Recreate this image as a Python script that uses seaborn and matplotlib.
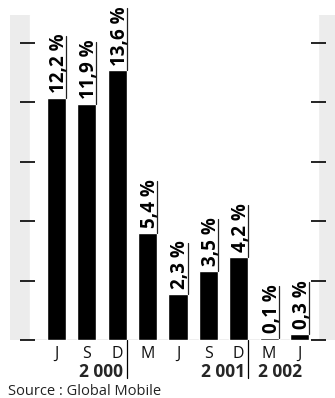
import matplotlib
matplotlib.use("Agg")
import matplotlib.pyplot as plt
import seaborn as sns
import pandas as pd

# Data
periods = ["J-2000", "S-2000", "D-2000", "M-2001", "J-2001", "S-2001", "D-2001", "M-2002", "J-2002"]
months = ["J", "S", "D", "M", "J", "S", "D", "M", "J"]
values = [12.2, 11.9, 13.6, 5.4, 2.3, 3.5, 4.2, 0.1, 0.3]
value_labels = ["12,2 %", "11,9 %", "13,6 %", "5,4 %", "2,3 %", "3,5 %", "4,2 %", "0,1 %", "0,3 %"]
years = ["2 000", "2 001", "2 002"]
source = "Source : Global Mobile"

df = pd.DataFrame({"period": periods, "value": values})

sns.set_theme(style="white")
plt.rcParams['font.family'] = ['Open Sans', 'DejaVu Sans']

fig = plt.figure(figsize=(3.35, 3.98), dpi=100)
ax = fig.add_axes([10 / 335, 1 - 340 / 398, 325 / 335, 325 / 398])
ax.set_facecolor('#ececec')

bw = 0.63
sns.barplot(data=df, x="period", y="value", order=periods, color="black",
            saturation=1, width=bw, ax=ax, zorder=2)

ax.set_xlim(-1.53, 9.17)
ax.set_ylim(0, 16.4)
for s in ax.spines.values():
    s.set_visible(False)

# white inner panel
ax.axvspan(-0.87, 8.61, ymin=0.1 / 16.4, ymax=1, color="white", zorder=0.5)

# side ticks every 3 %
yt = [0, 3, 6, 9, 12, 15]
ax.hlines(yt, -1.20, -0.71, color="black", lw=1.2, zorder=3, clip_on=False)
ax.hlines(yt, 8.38, 8.87, color="black", lw=1.2, zorder=3, clip_on=False)
ax.set_yticks([])

# month letters
ax.set_xticks([])
ax.set_xlabel("")
ax.set_ylabel("")
for i, m in enumerate(months):
    ax.text(i, -0.91, m, ha="center", va="baseline", fontsize=11.5, color="#111111")

# value labels, rotated, with the underline running up from the bar top
texts = []
for i, (v, lab) in enumerate(zip(values, value_labels)):
    xr = i + bw / 2
    t = ax.text(xr - 0.07, v + 0.25, lab, rotation=90, rotation_mode="anchor",
                ha="left", va="baseline", fontsize=13.5, fontweight="bold",
                color="black", zorder=4, clip_on=False)
    texts.append((t, xr, v))

fig.canvas.draw()
r = fig.canvas.get_renderer()
inv = ax.transData.inverted()
for t, xr, v in texts:
    bb = t.get_window_extent(r)
    top = inv.transform((0, bb.y1))[1]
    ax.plot([xr, xr], [v, top - 0.1], color="#222222", lw=0.9, zorder=4, clip_on=False)

# year separators and year labels
for xs in [2 + bw / 2, 6 + bw / 2]:
    ax.plot([xs, xs], [0, -1.92], color="black", lw=0.9, clip_on=False)
ax.text(2.18, -1.86, years[0], ha="right", va="baseline", fontsize=12.5, fontweight="bold")
ax.text(6.20, -1.86, years[1], ha="right", va="baseline", fontsize=12.5, fontweight="bold")
ax.text(6.62, -1.86, years[2], ha="left", va="baseline", fontsize=12.5, fontweight="bold")

fig.text(8 / 335, 1 - 395 / 398, source, ha="left", va="baseline", fontsize=10.5, color="#222222")

fig.savefig("out.png", dpi=100)
